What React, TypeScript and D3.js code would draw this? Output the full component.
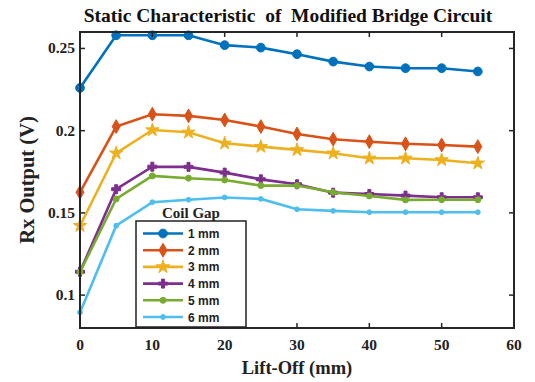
import React, { useEffect, useRef } from 'react';
import * as d3 from 'd3';

const liftOff = [0, 5, 10, 15, 20, 25, 30, 35, 40, 45, 50, 55];
const gapLabels = ['1 mm', '2 mm', '3 mm', '4 mm', '5 mm', '6 mm'];
const gap1 = [0.226, 0.258, 0.258, 0.258, 0.252, 0.2505, 0.2465, 0.242, 0.239, 0.238, 0.238, 0.236];
const gap2 = [0.1625, 0.2025, 0.21, 0.209, 0.2065, 0.2025, 0.198, 0.1948, 0.1933, 0.192, 0.1913, 0.1903];
const gap3 = [0.1422, 0.1863, 0.2004, 0.199, 0.1923, 0.1903, 0.1883, 0.1863, 0.1832, 0.1832, 0.1822, 0.1802];
const gap4 = [0.1142, 0.1644, 0.1781, 0.178, 0.1745, 0.1704, 0.1674, 0.1623, 0.1615, 0.1605, 0.1595, 0.1595];
const gap5 = [0.114, 0.1585, 0.1725, 0.1711, 0.17, 0.1666, 0.1666, 0.1625, 0.1603, 0.1579, 0.158, 0.158];
const gap6 = [0.0895, 0.1422, 0.1565, 0.158, 0.1594, 0.1585, 0.1522, 0.1512, 0.1504, 0.1504, 0.1504, 0.1504];
const xTicks = [0, 10, 20, 30, 40, 50, 60];
const yTicks = [0.1, 0.15, 0.2, 0.25];

const colors = ['#0072BD', '#D95319', '#EDB120', '#7E2F8E', '#77AC30', '#4DBEEE'];
const symbols = [d3.symbolCircle, d3.symbolDiamond, d3.symbolStar, d3.symbolCross, d3.symbolCircle, d3.symbolCircle];
const symSizes = [60, 55, 55, 45, 28, 18];

export default function App() {
  const ref = useRef<SVGSVGElement>(null);

  useEffect(() => {
    const width = 535;
    const height = 382;
    const margin = { top: 32, right: 21, bottom: 54, left: 80 };
    const serif = '"Liberation Serif", "Times New Roman", serif';
    const sans = '"Liberation Sans", Arial, sans-serif';
    const series = [gap1, gap2, gap3, gap4, gap5, gap6];

    const svg = d3.select(ref.current);
    svg.selectAll('*').remove();
    svg.attr('viewBox', `0 0 ${width} ${height}`);

    const x = d3.scaleLinear().domain([0, 60]).range([margin.left, width - margin.right]);
    const y = d3.scaleLinear().domain([0.08, 0.26]).range([height - margin.bottom, margin.top]);

    const x0 = x.range()[0], x1 = x.range()[1];
    const y0 = y.range()[0], y1 = y.range()[1];

    svg.append('rect').attr('width', width).attr('height', height).attr('fill', '#fff');

    // plot lines
    const line = d3.line<number>().x((d, i) => x(liftOff[i])).y((d) => y(d));
    series.forEach((vals, k) => {
      const g = svg.append('g');
      g.append('path')
        .attr('d', line(vals))
        .attr('fill', 'none')
        .attr('stroke', colors[k])
        .attr('stroke-width', 2.6);
      g.selectAll('path.m')
        .data(vals)
        .join('path')
        .attr('class', 'm')
        .attr('transform', (d, i) => `translate(${x(liftOff[i])},${y(d)})`)
        .attr('d', d3.symbol().type(symbols[k]).size(symSizes[k])())
        .attr('fill', colors[k])
        .attr('stroke', colors[k])
        .attr('stroke-width', 1);
    });

    // frame + ticks
    const axisColor = '#262626';
    svg.append('rect')
      .attr('x', x0).attr('y', y1).attr('width', x1 - x0).attr('height', y0 - y1)
      .attr('fill', 'none').attr('stroke', axisColor).attr('stroke-width', 2);

    const tickLen = 5;
    xTicks.forEach((t) => {
      svg.append('line').attr('x1', x(t)).attr('x2', x(t)).attr('y1', y0).attr('y2', y0 - tickLen)
        .attr('stroke', axisColor).attr('stroke-width', 1.5);
      svg.append('line').attr('x1', x(t)).attr('x2', x(t)).attr('y1', y1).attr('y2', y1 + tickLen)
        .attr('stroke', axisColor).attr('stroke-width', 1.5);
      svg.append('text').attr('x', x(t)).attr('y', y0 + 22)
        .attr('text-anchor', 'middle').attr('font-family', serif).attr('font-weight', 'bold')
        .attr('font-size', 15.5).attr('fill', '#222').text(t);
    });
    yTicks.forEach((t) => {
      svg.append('line').attr('x1', x0).attr('x2', x0 + tickLen).attr('y1', y(t)).attr('y2', y(t))
        .attr('stroke', axisColor).attr('stroke-width', 1.5);
      svg.append('line').attr('x1', x1).attr('x2', x1 - tickLen).attr('y1', y(t)).attr('y2', y(t))
        .attr('stroke', axisColor).attr('stroke-width', 1.5);
      svg.append('text').attr('x', x0 - 5).attr('y', y(t) + 5)
        .attr('text-anchor', 'end').attr('font-family', serif).attr('font-weight', 'bold')
        .attr('font-size', 15.5).attr('fill', '#222').text(String(t));
    });

    // title and labels
    svg.append('text').attr('x', 288).attr('y', 22).attr('text-anchor', 'middle')
      .attr('font-family', serif).attr('font-weight', 'bold').attr('font-size', 19.5)
      .attr('fill', '#111').attr('xml:space', 'preserve')
      .text('Static Characteristic  of  Modified Bridge Circuit');
    svg.append('text').attr('x', (x0 + x1) / 2).attr('y', 374).attr('text-anchor', 'middle')
      .attr('font-family', serif).attr('font-weight', 'bold').attr('font-size', 18.5)
      .attr('fill', '#222').text('Lift-Off (mm)');
    svg.append('text').attr('transform', `translate(34,${(y0 + y1) / 2}) rotate(-90)`)
      .attr('text-anchor', 'middle')
      .attr('font-family', serif).attr('font-weight', 'bold').attr('font-size', 20.5)
      .attr('fill', '#222').text('Rx Output (V)');

    // legend
    const lg = svg.append('g');
    lg.append('text').attr('x', 191).attr('y', 218).attr('text-anchor', 'middle')
      .attr('font-family', serif).attr('font-weight', 'bold').attr('font-size', 15)
      .attr('fill', '#222').text('Coil Gap');
    lg.append('rect').attr('x', 136).attr('y', 221).attr('width', 110).attr('height', 106)
      .attr('fill', '#fff').attr('stroke', '#222').attr('stroke-width', 1.5);
    gapLabels.forEach((lab, k) => {
      const ly = 233.5 + k * 16.7;
      lg.append('line').attr('x1', 143).attr('x2', 183).attr('y1', ly).attr('y2', ly)
        .attr('stroke', colors[k]).attr('stroke-width', 2.6);
      lg.append('path').attr('transform', `translate(163,${ly})`)
        .attr('d', d3.symbol().type(symbols[k]).size(symSizes[k])())
        .attr('fill', colors[k]).attr('stroke', colors[k]).attr('stroke-width', 1);
      lg.append('text').attr('x', 188).attr('y', ly + 4.5)
        .attr('font-family', sans).attr('font-weight', 'bold').attr('font-size', 12)
        .attr('fill', '#222').text(lab);
    });
  });

  return (
    <svg
      ref={ref}
      width={535}
      height={382}
      style={{ position: 'absolute', left: 0, top: 0, display: 'block' }}
    />
  );
}
